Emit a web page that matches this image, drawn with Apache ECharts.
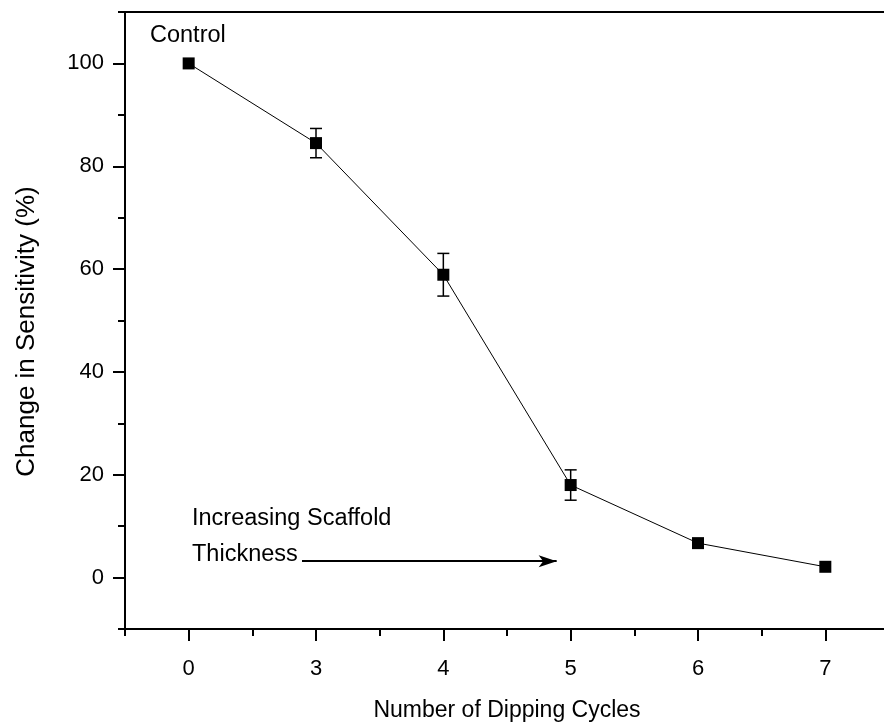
<!DOCTYPE html>
<html>
<head>
<meta charset="utf-8">
<script src="https://cdn.jsdelivr.net/npm/echarts@6/dist/echarts.min.js"></script>
<style>html,body{margin:0;padding:0;background:#fff;}#c{width:884px;height:725px;}</style>
</head>
<body>
<div id="c"></div>
<script>
var categories = ['0', '3', '4', '5', '6', '7'];
var sensitivity = [100, 84.5, 58.9, 18.0, 6.7, 2.1];
var errors = [0, 2.85, 4.15, 2.95, 0, 0];
var majorYTicks = [0, 20, 40, 60, 80, 100];
var arrowStart = [0.89, 3.2];
var arrowEnd = [2.89, 3.2];

var FONT = 'Liberation Sans, Arial, sans-serif';
var lineData = sensitivity.map(function (v, i) { return [i, v]; });
var errData = sensitivity.map(function (v, i) { return [i, v - errors[i], v + errors[i]]; });
var catIdx = categories.map(function (c, i) { return i; });

var chart = echarts.init(document.getElementById('c'), null, { renderer: 'canvas' });
chart.setOption({
  animation: false,
  backgroundColor: '#fff',
  textStyle: { fontFamily: FONT },
  grid: { left: 125, top: 12, width: 764, height: 617, containLabel: false, outerBoundsMode: 'none' },
  xAxis: [
    {
      type: 'value', min: -0.5, max: 5.5, interval: 0.5, position: 'bottom',
      axisLine: { show: true, onZero: false, lineStyle: { color: '#000', width: 2 } },
      axisTick: { show: true, inside: false, length: 7, lineStyle: { color: '#000', width: 2 } },
      axisLabel: { show: false },
      splitLine: { show: false },
      name: 'Number of Dipping Cycles', nameLocation: 'middle', nameGap: 70,
      nameTextStyle: { fontSize: 23, color: '#000', fontFamily: FONT }
    },
    {
      type: 'value', min: -0.5, max: 5.5, position: 'bottom',
      axisLine: { show: false, onZero: false },
      axisTick: { show: true, length: 12, customValues: catIdx, lineStyle: { color: '#000', width: 2 } },
      axisLabel: { show: true, customValues: catIdx, margin: 29, fontSize: 22, color: '#000', fontFamily: FONT,
        formatter: function (v) { return categories[Math.round(v)]; } },
      splitLine: { show: false }
    },
    {
      type: 'value', min: -0.5, max: 5.5, position: 'top',
      axisLine: { show: true, onZero: false, lineStyle: { color: '#000', width: 2 } },
      axisTick: { show: false }, axisLabel: { show: false }, splitLine: { show: false }
    }
  ],
  yAxis: [
    {
      type: 'value', min: -10, max: 110, interval: 10, position: 'left',
      axisLine: { show: true, onZero: false, lineStyle: { color: '#000', width: 2 } },
      axisTick: { show: true, length: 7, lineStyle: { color: '#000', width: 2 } },
      axisLabel: { show: false },
      splitLine: { show: false },
      name: 'Change in Sensitivity (%)', nameLocation: 'middle', nameGap: 85, nameRotate: 90,
      nameTextStyle: { fontSize: 26, color: '#000', fontFamily: FONT, padding: [0, 22, 0, 0] }
    },
    {
      type: 'value', min: -10, max: 110, position: 'left',
      axisLine: { show: false, onZero: false },
      axisTick: { show: true, length: 12, customValues: majorYTicks, lineStyle: { color: '#000', width: 2 } },
      axisLabel: { show: true, customValues: majorYTicks, margin: 21, fontSize: 22, color: '#000', fontFamily: FONT },
      splitLine: { show: false }
    }
  ],
  series: [
    {
      type: 'custom',
      xAxisIndex: 0, yAxisIndex: 0,
      data: errData,
      z: 3,
      renderItem: function (params, api) {
        var x = api.value(0);
        var lo = api.coord([x, api.value(1)]);
        var hi = api.coord([x, api.value(2)]);
        if (Math.abs(hi[1] - lo[1]) < 0.5) return null;
        var w = 6;
        var st = { stroke: '#000', lineWidth: 1.5 };
        return {
          type: 'group',
          children: [
            { type: 'line', shape: { x1: lo[0], y1: lo[1], x2: hi[0], y2: hi[1] }, style: st },
            { type: 'line', shape: { x1: lo[0] - w, y1: lo[1], x2: lo[0] + w, y2: lo[1] }, style: st },
            { type: 'line', shape: { x1: hi[0] - w, y1: hi[1], x2: hi[0] + w, y2: hi[1] }, style: st }
          ]
        };
      }
    },
    {
      type: 'line',
      xAxisIndex: 0, yAxisIndex: 0,
      data: lineData,
      z: 4,
      symbol: 'rect', symbolSize: 12,
      lineStyle: { color: '#000', width: 1 },
      itemStyle: { color: '#000' },
      markLine: {
        silent: true,
        symbol: ['none', 'arrow'],
        symbolSize: [9, 18],
        label: { show: false },
        lineStyle: { color: '#000', width: 2, type: 'solid' },
        data: [[{ coord: arrowStart }, { coord: arrowEnd }]]
      }
    }
  ],
  graphic: [
    { type: 'text', left: 150, top: 24, style: { text: 'Control', font: '23.5px ' + FONT, fill: '#000' } },
    { type: 'text', left: 192, top: 507, style: { text: 'Increasing Scaffold', font: '23.5px ' + FONT, fill: '#000' } },
    { type: 'text', left: 192, top: 543, style: { text: 'Thickness', font: '23.5px ' + FONT, fill: '#000' } }
  ]
});
</script>
</body>
</html>
